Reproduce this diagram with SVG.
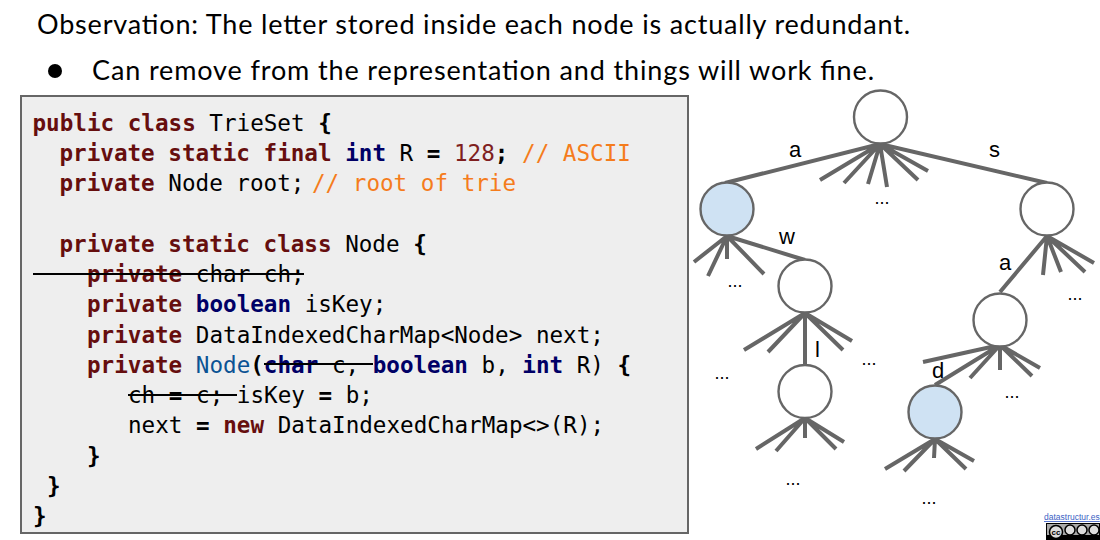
<svg xmlns="http://www.w3.org/2000/svg" width="1100" height="540" viewBox="0 0 1100 540">
<style>
.h{font-family:"Lato","Open Sans","Liberation Sans",sans-serif;font-size:27px;fill:#000}
.c{font-family:"DejaVu Sans Mono","Liberation Mono",monospace;font-size:22.6px;fill:#000;white-space:pre}
.k{font-weight:bold;fill:#660e0e}
.t{font-weight:bold;fill:#000066}
.b{font-weight:bold}
.n{fill:#7f1f1f}
.o{fill:#f57c1c}
.f{fill:#0b5394}
.e{stroke:#666;stroke-width:4;fill:none;stroke-linecap:butt}
.s{stroke:#000;stroke-width:2;fill:none}
.nd{stroke:#666;stroke-width:2.4;fill:#fff}
.bl{fill:#cfe2f3}
.l{font-family:"Liberation Sans",Arial,sans-serif;font-size:22px;fill:#000}
.d{font-family:"Liberation Sans",Arial,sans-serif;font-size:18px;fill:#000;text-anchor:middle}
</style>
<g id="heading">
<text class="h" x="37" y="34" textLength="873">Observation: The letter stored inside each node is actually redundant.</text>
<circle cx="55" cy="71" r="7" fill="#000"/>
<text class="h" x="92" y="80" textLength="782">Can remove from the representation and things will work fine.</text>
</g>
<g id="code">
<rect x="21" y="96" width="667" height="437" fill="#eee" stroke="#666" stroke-width="2"/>
<text class="c" x="32.500" y="131"><tspan class="k">public class</tspan> TrieSet <tspan class="b">{</tspan></text>
<text class="c" x="59.500" y="161"><tspan class="k">private static final</tspan> <tspan class="t">int</tspan> R <tspan class="b">=</tspan> <tspan class="n">128</tspan><tspan class="b">;</tspan> <tspan class="o">// ASCII</tspan></text>
<text class="c" x="59.500" y="191"><tspan class="k">private</tspan> Node root;</text>
<text class="c o" x="312" y="191">// root of trie</text>
<text class="c" x="59.500" y="252"><tspan class="k">private static class</tspan> Node <tspan class="b">{</tspan></text>
<text class="c" x="87" y="282"><tspan class="k">private</tspan> char ch;</text>
<text class="c" x="87" y="312"><tspan class="k">private</tspan> <tspan class="t">boolean</tspan> isKey;</text>
<text class="c" x="87" y="343"><tspan class="k">private</tspan> DataIndexedCharMap&lt;Node&gt; next;</text>
<text class="c" x="87" y="373"><tspan class="k">private</tspan> <tspan class="f">Node</tspan><tspan class="b">(</tspan><tspan class="t">char</tspan> c, <tspan class="t">boolean</tspan> b, <tspan class="t">int</tspan> R) <tspan class="b">{</tspan></text>
<text class="c" x="128" y="403">ch <tspan class="b">=</tspan> c; isKey <tspan class="b">=</tspan> b;</text>
<text class="c" x="128" y="433">next <tspan class="b">=</tspan> <tspan class="k">new</tspan> DataIndexedCharMap&lt;&gt;(R);</text>
<text class="c b" x="87" y="464">}</text>
<text class="c b" x="47" y="494">}</text>
<text class="c b" x="33" y="524">}</text>
<line class="s" x1="33" y1="274" x2="304" y2="274"/>
<line class="s" x1="264" y1="364" x2="373" y2="364"/>
<line class="s" x1="128" y1="395" x2="237" y2="395"/>
</g>
<g id="connectors">
<path class="e" d="M880 144L725 183M880 144L1047 183M880 144L820 180M880 144L844 183M880 144L868 184M880 144L887 187M880 144L928 171M880 144L918 180"/>
<path class="e" d="M727 236L805 260M727 236L694 262M727 236L708 276M727 236L727 259M727 236L764 274"/>
<path class="e" d="M1047 236L1000 292M1047 236L1043 275M1047 236L1061 272M1047 236L1085 272M1047 236L1094 263"/>
<path class="e" d="M805 313L805 365M805 313L744 350M805 313L768 352M805 313L852 341M805 313L843 350"/>
<path class="e" d="M805 418L756 449M805 418L776 451M805 418L805 438M805 418L836 449M805 418L844 442"/>
<path class="e" d="M1000 345L935 385M1000 345L923 362M1000 345L970 378M1000 345L1000 370M1000 345L1032 376M1000 345L1040 368"/>
<path class="e" d="M935 439L885 469M935 439L904 471M935 439L934 458M935 439L966 469M935 439L974 461"/>
</g>
<g id="root"><circle class="nd" cx="880.500" cy="117" r="26.500"/></g>
<g id="node-a"><circle class="nd bl" cx="727" cy="209" r="26.500"/></g>
<g id="node-s"><circle class="nd" cx="1047" cy="209" r="26.500"/></g>
<g id="node-w"><circle class="nd" cx="805" cy="286" r="26.500"/></g>
<g id="node-l"><circle class="nd" cx="805" cy="391.500" r="26.500"/></g>
<g id="node-sa"><circle class="nd" cx="1000" cy="320" r="26.500"/></g>
<g id="node-d"><circle class="nd bl" cx="935" cy="412" r="26.500"/></g>
<g id="labels">
<text class="l" x="789" y="157">a</text>
<text class="l" x="989" y="157">s</text>
<text class="l" x="779" y="244">w</text>
<text class="l" x="999" y="270">a</text>
<text class="l" x="815" y="357">l</text>
<text class="l" x="932" y="378">d</text>
<text class="d" x="882" y="204">...</text>
<text class="d" x="735" y="287">...</text>
<text class="d" x="1075" y="300">...</text>
<text class="d" x="722" y="379">...</text>
<text class="d" x="869" y="365">...</text>
<text class="d" x="793" y="485">...</text>
<text class="d" x="1012" y="398">...</text>
<text class="d" x="929" y="504">...</text>
</g>
<g id="credit">
<text x="1044" y="520" font-family="Liberation Sans,Arial,sans-serif" font-size="8.500" fill="#3c5fc4" text-decoration="underline">datastructur.es</text>
<rect x="1046.500" y="523.500" width="53" height="16" fill="#aaa" stroke="#000"/>
<rect x="1047" y="535" width="53" height="5" fill="#000"/>
<g fill="#ddd" stroke="#000" stroke-width="1.500">
<circle cx="1056" cy="532" r="6.500"/><circle cx="1070" cy="530" r="5"/><circle cx="1082" cy="530" r="5"/><circle cx="1094" cy="530" r="5"/>
</g>
<text x="1056" y="535" font-family="Liberation Sans,Arial,sans-serif" font-size="8" font-weight="bold" text-anchor="middle" fill="#000">cc</text>
</g>
</svg>
